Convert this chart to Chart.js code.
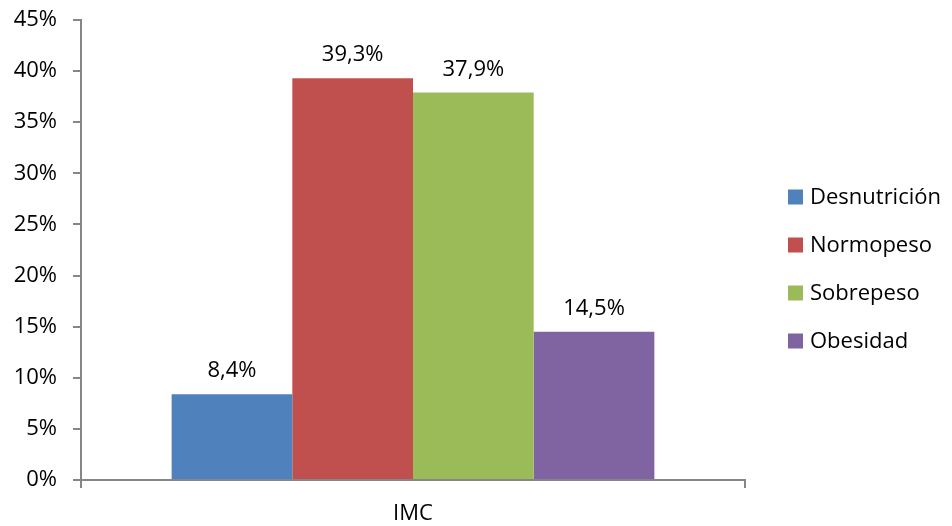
<!DOCTYPE html>
<html>
<head>
<meta charset="utf-8">
<script src="https://cdn.jsdelivr.net/npm/chart.js@4/dist/chart.umd.min.js"></script>
<style>
  html, body { margin: 0; padding: 0; background: #fff; }
  #wrap { width: 952px; height: 526px; }
</style>
</head>
<body>
<div id="wrap"><canvas id="imcChart"></canvas></div>
<script>
// ─── DATA ───
const categories = ['IMC'];
const seriesNames = ['Desnutrición', 'Normopeso', 'Sobrepeso', 'Obesidad'];
const seriesValues = [8.4, 39.3, 37.9, 14.5];
const seriesColors = ['#4F81BD', '#C0504D', '#9BBB59', '#8064A2'];
const yTicks = [0, 5, 10, 15, 20, 25, 30, 35, 40, 45];

const FONT = "'Open Sans', 'DejaVu Sans', sans-serif";
const FONT_SIZE = 22;
const AXIS_GRAY = '#868686';

const fmtPct = v => v.toFixed(1).replace('.', ',') + '%';

// value labels above each bar
const barLabels = {
    id: 'barLabels',
    afterDatasetsDraw(chart) {
        const ctx = chart.ctx;
        ctx.save();
        ctx.font = `${FONT_SIZE}px ${FONT}`;
        ctx.fillStyle = '#000';
        ctx.textAlign = 'center';
        ctx.textBaseline = 'alphabetic';
        chart.data.datasets.forEach((ds, i) => {
            chart.getDatasetMeta(i).data.forEach((bar, j) => {
                ctx.fillText(fmtPct(ds.data[j]), bar.x, bar.y - 17);
            });
        });
        ctx.restore();
    }
};

// legend column to the right of the plot, squares + names
const sideLegend = {
    id: 'sideLegend',
    afterDraw(chart) {
        const ctx = chart.ctx;
        const box = 15, rowGap = 48;
        const x = chart.chartArea.right + 43;
        const n = chart.data.datasets.length;
        const y0 = chart.height / 2 + 6 - (n - 1) * rowGap / 2;
        ctx.save();
        ctx.font = `${FONT_SIZE}px ${FONT}`;
        ctx.textBaseline = 'middle';
        ctx.textAlign = 'left';
        chart.data.datasets.forEach((ds, i) => {
            const cy = y0 + i * rowGap;
            ctx.fillStyle = ds.backgroundColor;
            ctx.fillRect(x, cy - box / 2, box, box);
            ctx.fillStyle = '#000';
            ctx.fillText(ds.label, x + box + 7, cy + 1);
        });
        ctx.restore();
    }
};

const datasets = seriesNames.map((name, i) => ({
    label: name,
    data: [seriesValues[i]],
    backgroundColor: seriesColors[i],
    borderWidth: 0,
    categoryPercentage: 0.727,
    barPercentage: 1.0
}));

new Chart(document.getElementById('imcChart'), {
    type: 'bar',
    data: { labels: categories, datasets },
    plugins: [barLabels, sideLegend],
    options: {
        responsive: true,
        maintainAspectRatio: false,
        animation: false,
        layout: { padding: { top: 0, left: 0, right: 207, bottom: 0 } },
        plugins: {
            tooltip: { enabled: false },
            legend: { display: false }
        },
        scales: {
            x: {
                border: { color: AXIS_GRAY, width: 2 },
                grid: { drawOnChartArea: false, drawTicks: true, tickLength: 8, color: AXIS_GRAY, lineWidth: 2 },
                ticks: { font: { family: FONT, size: FONT_SIZE }, color: '#000', padding: 13 },
                afterFit: s => { s.height = 46; }
            },
            y: {
                min: 0,
                max: yTicks[yTicks.length - 1],
                border: { color: AXIS_GRAY, width: 2 },
                grid: { drawOnChartArea: false, drawTicks: true, tickLength: 8, color: AXIS_GRAY, lineWidth: 2 },
                afterBuildTicks: s => { s.ticks = yTicks.map(v => ({ value: v })); },
                ticks: {
                    font: { family: FONT, size: FONT_SIZE },
                    color: '#000',
                    padding: 16,
                    callback: v => v + '%'
                },
                afterFit: s => { s.width = 81; s.paddingTop = 20; s.paddingBottom = 0; }
            }
        }
    }
});
</script>
</body>
</html>
